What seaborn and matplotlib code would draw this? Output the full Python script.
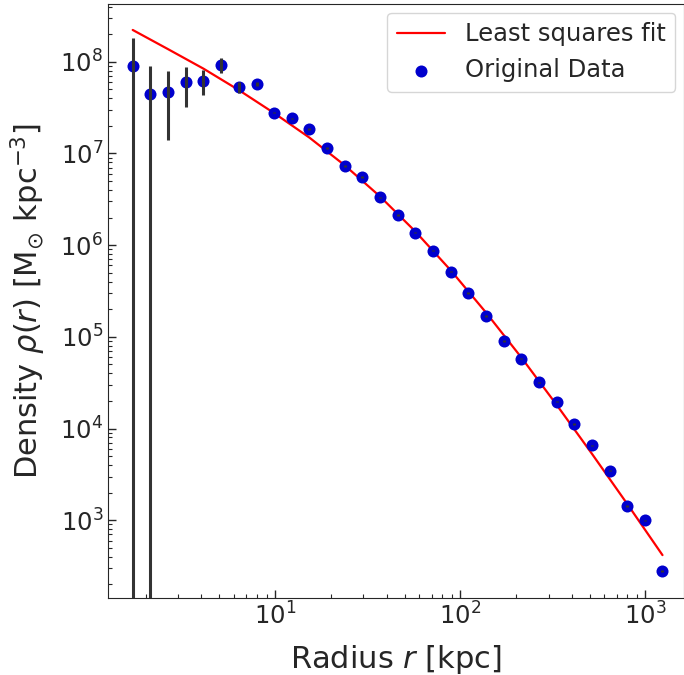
import matplotlib
matplotlib.use("Agg")
import matplotlib.pyplot as plt
from matplotlib.ticker import NullFormatter
import pandas as pd
import seaborn as sns

###############################################################################
# values

radius = [1.70, 2.12, 2.64, 3.29, 4.10, 5.11, 6.37, 7.93, 9.88, 12.3,
          15.3, 19.1, 23.8, 29.6, 36.9, 46.0, 57.2, 71.3, 88.8, 110.6,
          137.8, 171.6, 213.7, 266.0, 332.0, 413.0, 514.0, 641.0, 798.0,
          994.0, 1238.0]

density = [8.97e7, 4.45e7, 4.71e7, 6.01e7, 6.21e7, 9.2e7, 5.26e7, 5.71e7,
           2.78e7, 2.42e7, 1.85e7, 1.15e7, 7.3e6, 5.53e6, 3.32e6, 2.13e6,
           1.365e6, 8.69e5, 5.13e5, 3.01e5, 1.69e5, 9.0e4, 5.77e4, 3.19e4,
           1.96e4, 1.12e4, 6.6e3, 3.47e3, 1.43e3, 998.0, 281.0]

density_err = [9.2e7, 4.6e7, 3.3e7, 2.8e7, 1.9e7, 1.7e7, 7.0e6, 2.5e6,
               5.0e5, 4.0e5, 3.0e5, 2.0e5, 1.2e5, 9.0e4, 5.0e4, 3.2e4,
               2.0e4, 1.3e4, 7.5e3, 4.5e3, 2.5e3, 1.4e3, 8.5e2, 5.0e2,
               3.0e2, 1.8e2, 1.0e2, 55.0, 25.0, 18.0, 6.0]

fit_radius = [1.70, 2.64, 4.10, 6.37, 9.88, 15.3, 23.8, 36.9, 57.2, 88.8,
              137.8, 213.7, 332.0, 514.0, 798.0, 1238.0]

fit_density = [2.22e8, 1.37e8, 8.4e7, 4.9e7, 2.75e7, 1.49e7, 7.4e6, 3.39e6,
               1.41e6, 5.32e5, 1.84e5, 5.97e4, 1.81e4, 5.33e3, 1.51e3, 417.0]

###############################################################################

sns.set_style("ticks", {"xtick.direction": "in", "ytick.direction": "in"})

data = pd.DataFrame({"r": radius, "rho": density, "err": density_err})
fit = pd.DataFrame({"r": fit_radius, "rho": fit_density})

fig = plt.figure(figsize=(6.84, 6.75), dpi=100)
ax = fig.add_axes([108 / 684, 77 / 675, 576 / 684, 594 / 675])

sns.lineplot(data=fit, x="r", y="rho", color="red", linewidth=1.6,
             label="Least squares fit", ax=ax, sort=False)
sns.scatterplot(data=data, x="r", y="rho", color="mediumblue", s=75,
                linewidth=0, label="Original Data", ax=ax, zorder=3)
ax.errorbar(data["r"], data["rho"], yerr=data["err"], fmt="none",
            ecolor="#333333", elinewidth=2.2, capsize=0, zorder=4)

ax.set_xscale("log")
ax.set_yscale("log")
ax.set_xlim(1.25, 1618)
ax.set_ylim(142, 4.26e8)
ax.xaxis.set_minor_formatter(NullFormatter())
ax.yaxis.set_minor_formatter(NullFormatter())

ax.tick_params(which="major", direction="in", length=6, width=1,
               labelsize=17.5)
ax.tick_params(which="minor", direction="in", length=3, width=0.8)

ax.set_xlabel(r"Radius $r$ [kpc]", fontsize=22, labelpad=9)
ax.set_ylabel(r"Density $\rho(r)$ [M$_{\odot}$ kpc$^{-3}$]", fontsize=22,
              labelpad=9)

ax.legend(loc="upper right", fontsize=17.5, borderaxespad=0.35)

plt.savefig("out.png", dpi=100)
